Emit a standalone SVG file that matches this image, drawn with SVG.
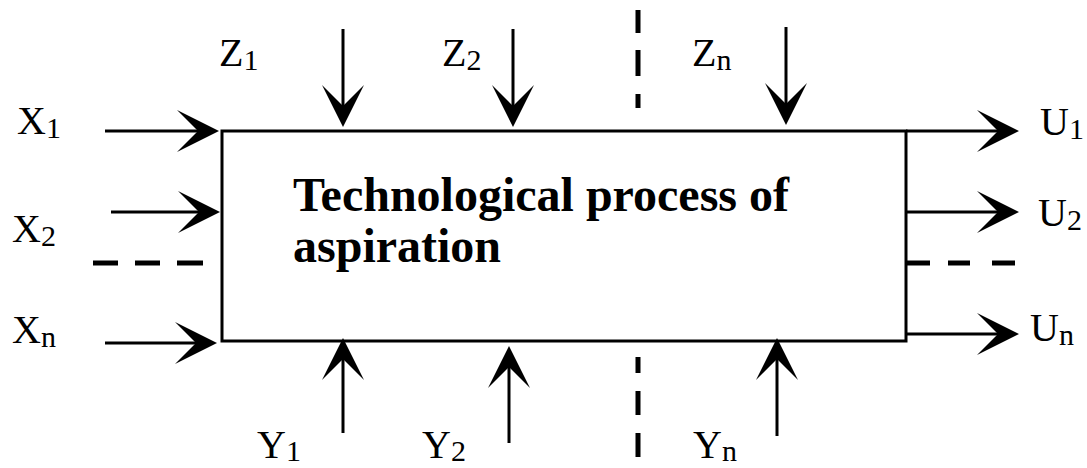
<svg xmlns="http://www.w3.org/2000/svg" width="1087" height="468" viewBox="0 0 1087 468">
<style>
.lbl{font-family:"Liberation Serif","Times New Roman",serif;font-size:40px;fill:#000}
.sub{font-size:30px}
.title{font-family:"Liberation Serif","Times New Roman",serif;font-size:48px;font-weight:bold;fill:#000}
.ar{stroke:#000;stroke-width:3;fill:none;marker-end:url(#ah)}
.dash{stroke:#000;stroke-width:5;fill:none}
</style>
<defs>
<marker id="ah" markerUnits="userSpaceOnUse" markerWidth="44" markerHeight="44" refX="38" refY="21" orient="auto">
<path d="M42,21 L0,0 L21,21 L0,42 Z" fill="#000"/>
</marker>
</defs>
<rect width="1087" height="468" fill="#fff"/>
<g id="process">
<rect x="222" y="131" width="684" height="210" fill="#fff" stroke="#000" stroke-width="3"/>
<text class="title" x="293" y="211">Technological process of</text>
<text class="title" x="293" y="262">aspiration</text>
</g>
<g id="connectors">
<line class="ar" x1="105" y1="131" x2="215" y2="131"/>
<line class="ar" x1="111" y1="212" x2="216" y2="212"/>
<line class="ar" x1="105" y1="343" x2="213" y2="343"/>
<line class="ar" x1="343" y1="29" x2="343" y2="123"/>
<line class="ar" x1="513" y1="29" x2="513" y2="123"/>
<line class="ar" x1="786" y1="27" x2="786" y2="121"/>
<line class="ar" x1="906" y1="131" x2="1015" y2="131"/>
<line class="ar" x1="906" y1="212" x2="1015" y2="212"/>
<line class="ar" x1="906" y1="334" x2="1015" y2="334"/>
<line class="ar" x1="343" y1="433" x2="343" y2="342"/>
<line class="ar" x1="509" y1="443" x2="509" y2="350"/>
<line class="ar" x1="777" y1="436" x2="777" y2="342"/>
<path class="dash" d="M638,10V33M638,50V76M638,94V108"/>
<path class="dash" d="M638,357V373M638,391V415M638,433V457"/>
<path class="dash" d="M93,263H118M135,263H160M177,263H203"/>
<path class="dash" d="M907,263H930M948,263H970M992,263H1015"/>
</g>
<g id="labels">
<text class="lbl" x="17" y="134">X<tspan class="sub" dy="4">1</tspan></text>
<text class="lbl" x="12" y="242">X<tspan class="sub" dy="4">2</tspan></text>
<text class="lbl" x="12" y="343">X<tspan class="sub" dy="4">n</tspan></text>
<text class="lbl" x="219" y="66">Z<tspan class="sub" dy="4">1</tspan></text>
<text class="lbl" x="442" y="66">Z<tspan class="sub" dy="4">2</tspan></text>
<text class="lbl" x="692" y="66">Z<tspan class="sub" dy="4">n</tspan></text>
<text class="lbl" x="1040" y="135">U<tspan class="sub" dy="4">1</tspan></text>
<text class="lbl" x="1038" y="226">U<tspan class="sub" dy="4">2</tspan></text>
<text class="lbl" x="1030" y="341">U<tspan class="sub" dy="4">n</tspan></text>
<text class="lbl" x="257" y="458">Y<tspan class="sub" dy="3">1</tspan></text>
<text class="lbl" x="422" y="458">Y<tspan class="sub" dy="3">2</tspan></text>
<text class="lbl" x="693" y="458">Y<tspan class="sub" dy="3">n</tspan></text>
</g>
</svg>
